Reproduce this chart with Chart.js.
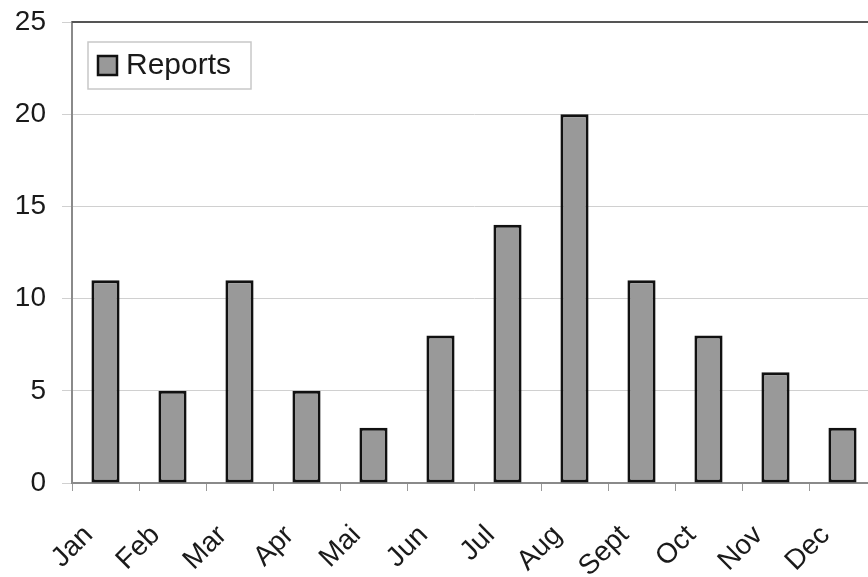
<!DOCTYPE html>
<html>
<head>
<meta charset="utf-8">
<script src="https://cdn.jsdelivr.net/npm/chart.js@4/dist/chart.umd.min.js"></script>
<style>
  html, body { margin: 0; padding: 0; background: #fff; overflow: hidden; }
  #wrap { width: 880px; height: 577px; }
</style>
</head>
<body>
<div id="wrap"><canvas id="c" width="880" height="577"></canvas></div>
<script>
// Monthly report counts
const months = ['Jan', 'Feb', 'Mar', 'Apr', 'Mai', 'Jun', 'Jul', 'Aug', 'Sept', 'Oct', 'Nov', 'Dec'];
const reports = [11, 5, 11, 5, 3, 8, 14, 20, 11, 8, 6, 3];
const yTicks = [0, 5, 10, 15, 20, 25];

const FONT = 'Liberation Sans, Arial, sans-serif';

// Boxed legend in the upper-left corner, plus a dark top edge on the plot
const frameAndLegend = {
  id: 'frameAndLegend',
  afterDraw(chart) {
    const { ctx, chartArea } = chart;
    ctx.save();
    ctx.strokeStyle = '#555';
    ctx.lineWidth = 2;
    ctx.beginPath();
    ctx.moveTo(chartArea.left, chartArea.top);
    ctx.lineTo(chartArea.right, chartArea.top);
    ctx.stroke();

    const ds = chart.data.datasets[0];
    const bx = chartArea.left + 16, by = chartArea.top + 20, bw = 163, bh = 47;
    ctx.fillStyle = '#fff';
    ctx.fillRect(bx, by, bw, bh);
    ctx.strokeStyle = '#c8c8c8';
    ctx.lineWidth = 1.5;
    ctx.strokeRect(bx, by, bw, bh);
    ctx.fillStyle = ds.backgroundColor;
    ctx.fillRect(bx + 10, by + 14, 19, 19);
    ctx.strokeStyle = '#111';
    ctx.lineWidth = 2.5;
    ctx.strokeRect(bx + 10, by + 14, 19, 19);
    ctx.fillStyle = '#1a1a1a';
    ctx.font = '30px ' + FONT;
    ctx.textBaseline = 'middle';
    ctx.textAlign = 'left';
    ctx.fillText(ds.label, bx + 38, by + 24);
    ctx.restore();
  }
};

new Chart(document.getElementById('c'), {
  type: 'bar',
  data: {
    labels: months,
    datasets: [{
      label: 'Reports',
      data: reports,
      backgroundColor: '#999999',
      borderColor: '#111111',
      borderWidth: 3,
      borderSkipped: false,
      barPercentage: 0.42,
      categoryPercentage: 1.0
    }]
  },
  options: {
    responsive: false,
    animation: false,
    layout: { padding: { top: 22, right: 4, left: 0, bottom: 0 } },
    plugins: { legend: { display: false }, tooltip: { enabled: false } },
    scales: {
      y: {
        min: 0,
        max: 25,
        afterBuildTicks(scale) { scale.ticks = yTicks.map(v => ({ value: v })); },
        afterFit(scale) {
          scale.width = 72;
          scale.paddingTop = 0;
          scale.paddingBottom = 0;
        },
        grid: { color: '#d0d0d0', lineWidth: 1, tickLength: 10, drawTicks: true },
        border: { color: '#8a8a8a', width: 2 },
        ticks: { color: '#1a1a1a', font: { family: FONT, size: 28 }, padding: 16 }
      },
      x: {
        afterFit(scale) {
          scale.height = 94;
          scale.paddingLeft = 0;
          scale.paddingRight = 0;
        },
        grid: { offset: true, drawOnChartArea: false, color: '#999', tickLength: 8 },
        border: { color: '#8a8a8a', width: 2 },
        ticks: {
          color: '#1a1a1a',
          font: { family: FONT, size: 28 },
          maxRotation: 45,
          minRotation: 45,
          autoSkip: false,
          padding: 28,
          labelOffset: -17
        }
      }
    }
  },
  plugins: [frameAndLegend]
});
</script>
</body>
</html>
